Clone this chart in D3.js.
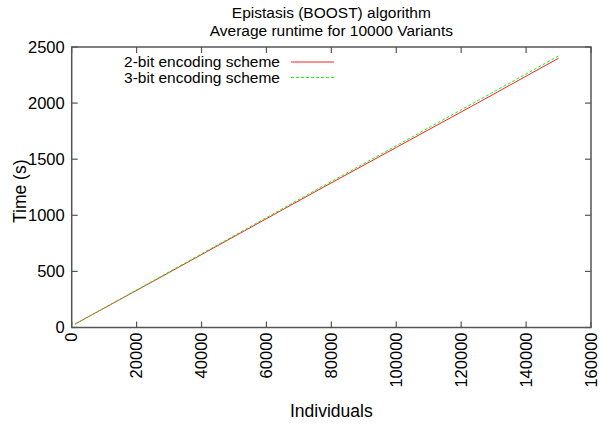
<!DOCTYPE html>
<html>
<head>
<meta charset="utf-8">
<script src="https://cdn.jsdelivr.net/npm/d3@7"></script>
<style>
  body { margin: 0; background: #fff; }
  text { font-family: "Liberation Sans", Arial, Helvetica, sans-serif; fill: #000; }
</style>
</head>
<body>
<script>
// data
var individuals = [1000, 25000, 50000, 75000, 100000, 125000, 150000];
var twoBit   = [30, 410, 810, 1210, 1605, 2000, 2400];
var threeBit = [30, 415, 818, 1222, 1620, 2020, 2420];
var xTicks = [0, 20000, 40000, 60000, 80000, 100000, 120000, 140000, 160000];
var yTicks = [0, 500, 1000, 1500, 2000, 2500];
var seriesNames = ["2-bit encoding scheme", "3-bit encoding scheme"];

var margin = {top: 47, right: 9, bottom: 97.5, left: 71.7};
var width = 600 - margin.left - margin.right;
var height = 425 - margin.top - margin.bottom;

var svg = d3.select("body").append("svg")
  .attr("width", 600)
  .attr("height", 425);

var g = svg.append("g")
  .attr("transform", "translate(" + margin.left + "," + margin.top + ")");

var x = d3.scaleLinear().domain([0, 160000]).range([0, width]);
var y = d3.scaleLinear().domain([0, 2500]).range([height, 0]);

var frameColor = "#555";
var tick = 6;

// ticks on all four sides, pointing inward (gnuplot style)
g.append("g").attr("class", "xticks")
  .selectAll("line").data(xTicks).enter().append("line")
  .attr("x1", d => x(d)).attr("x2", d => x(d))
  .attr("y1", height).attr("y2", height - tick)
  .attr("stroke", frameColor).attr("stroke-width", 1.2);
g.append("g")
  .selectAll("line").data(xTicks).enter().append("line")
  .attr("x1", d => x(d)).attr("x2", d => x(d))
  .attr("y1", 0).attr("y2", tick)
  .attr("stroke", frameColor).attr("stroke-width", 1.2);
g.append("g")
  .selectAll("line").data(yTicks).enter().append("line")
  .attr("x1", 0).attr("x2", tick)
  .attr("y1", d => y(d)).attr("y2", d => y(d))
  .attr("stroke", frameColor).attr("stroke-width", 1.2);
g.append("g")
  .selectAll("line").data(yTicks).enter().append("line")
  .attr("x1", width).attr("x2", width - tick)
  .attr("y1", d => y(d)).attr("y2", d => y(d))
  .attr("stroke", frameColor).attr("stroke-width", 1.2);

// frame
g.append("rect")
  .attr("width", width).attr("height", height)
  .attr("fill", "none").attr("stroke", frameColor).attr("stroke-width", 1.5);

// tick labels
g.append("g")
  .selectAll("text").data(yTicks).enter().append("text")
  .attr("x", -7).attr("y", d => y(d)).attr("dy", "0.35em")
  .attr("text-anchor", "end").style("font-size", "16.5px")
  .text(d => d);

g.append("g")
  .selectAll("text").data(xTicks).enter().append("text")
  .attr("transform", d => "translate(" + x(d) + "," + (height + 5) + ") rotate(-90)")
  .attr("dy", "0.35em")
  .attr("text-anchor", "end").style("font-size", "16.5px")
  .text(d => d);

// axis titles
svg.append("text")
  .attr("x", margin.left + width / 2).attr("y", 417)
  .attr("text-anchor", "middle").style("font-size", "17.5px")
  .text("Individuals");

svg.append("text")
  .attr("transform", "translate(26," + (margin.top + height / 2 + 4) + ") rotate(-90)")
  .attr("text-anchor", "middle").style("font-size", "17.5px")
  .text("Time (s)");

// title
svg.append("text")
  .attr("x", margin.left + width / 2).attr("y", 18)
  .attr("text-anchor", "middle").style("font-size", "15.5px")
  .text("Epistasis (BOOST) algorithm");
svg.append("text")
  .attr("x", margin.left + width / 2).attr("y", 36)
  .attr("text-anchor", "middle").style("font-size", "15.5px")
  .text("Average runtime for 10000 Variants");

// series
var line = d3.line()
  .x(d => x(d[0]))
  .y(d => y(d[1]));

var series = [
  {name: seriesNames[0], values: individuals.map((v, i) => [v, twoBit[i]]), color: "#ff2020", dash: null},
  {name: seriesNames[1], values: individuals.map((v, i) => [v, threeBit[i]]), color: "#20f020", dash: "3,2"}
];

g.selectAll(".series").data(series).enter().append("path")
  .attr("class", "series")
  .attr("d", d => line(d.values))
  .attr("fill", "none")
  .attr("stroke", d => d.color)
  .attr("stroke-width", 1)
  .attr("stroke-dasharray", d => d.dash);

// legend
var legend = svg.append("g").attr("class", "legend")
  .selectAll("g").data(series).enter().append("g")
  .attr("transform", (d, i) => "translate(0," + (62 + i * 15.5) + ")");
legend.append("text")
  .attr("x", 280).attr("dy", "0.35em")
  .attr("text-anchor", "end").style("font-size", "15.5px")
  .text(d => d.name);
legend.append("line")
  .attr("x1", 291).attr("x2", 334)
  .attr("stroke", d => d.color)
  .attr("stroke-width", 1)
  .attr("stroke-dasharray", d => d.dash);
</script>
</body>
</html>
